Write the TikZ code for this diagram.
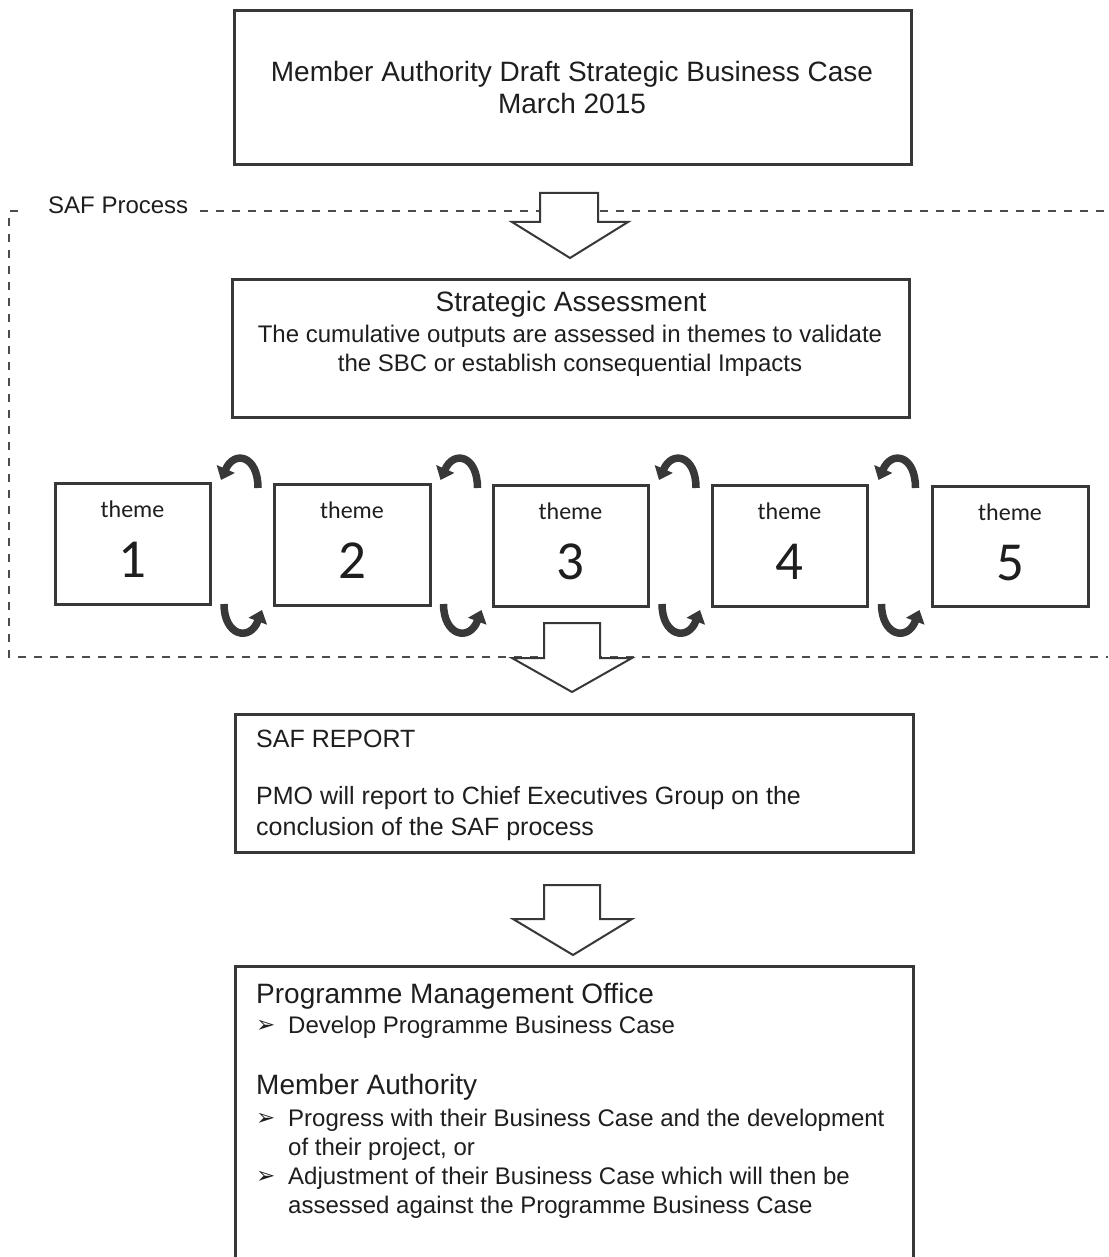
\documentclass[tikz,border=0pt]{standalone}
\usepackage{fontspec}
\setmainfont{Liberation Sans}
\newfontfamily\themefont{Carlito}
\newfontfamily\symfont{DejaVu Sans}
\usetikzlibrary{arrows.meta}
\definecolor{ink}{HTML}{1E1E1E}
\definecolor{rule}{HTML}{383838}
\newcommand\setsz[1]{\fontsize{#1}{#1}\selectfont}
\begin{document}
\begin{tikzpicture}[x=1pt,y=-1pt,
  box/.style={draw=rule,line width=3pt,inner sep=0pt},
  blockarrow/.style={draw=rule,line width=2pt,fill=white,line join=miter},
  framedash/.style={draw=rule!90,line width=2pt,dash pattern=on 8pt off 8pt},
  turn/.style={draw=rule,line width=7.5pt,-{Triangle[width=19pt,length=12pt]}},
  txt/.style={text=ink,inner sep=0pt,anchor=base},
  ltxt/.style={text=ink,inner sep=0pt,anchor=base west},
  bullet/.style={text=ink,inner sep=0pt,anchor=base west,font=\symfont\setsz{23}},
]
\useasboundingbox (0,0) rectangle (1108,1257);
\clip (0,0) rectangle (1108,1257);

% dashed frame of the SAF process
\node[ltxt,font=\setsz{24}] (saflbl) at (48,214) {SAF Process};
\draw[framedash] (200,211) -- (1108,211);
\draw[framedash] (18,211) -- (9,211) -- (9,657) -- (1108,657);

% top box
\node[box,minimum width=677pt,minimum height=154pt] (draft) at (572.5,87.5) {};
\node[txt,font=\setsz{28}] (draftA) at (572,82) {Member Authority Draft Strategic Business Case};
\node[txt,font=\setsz{28}] (draftB) at (572,114) {March 2015};

% strategic assessment box
\node[box,minimum width=677pt,minimum height=138pt] (sa) at (570.5,348) {};
\node[txt,font=\setsz{28}] (saA) at (571,311) {Strategic Assessment};
\node[txt,font=\setsz{24}] (saB) at (570,342) {The cumulative outputs are assessed in themes to validate};
\node[txt,font=\setsz{24}] (saC) at (570,371) {the SBC or establish consequential Impacts};

% theme boxes
\foreach \i/\l/\r/\t/\b in {1/55/210/483/604, 2/274/430/484/605, 3/493/648/485/606, 4/712/867/485/606, 5/932/1088/486/606}{
  \node[box,minimum width={\r-\l},minimum height={\b-\t}] (theme\i) at ({(\l+\r)/2},{(\t+\b)/2}) {};
  \node[txt,font=\themefont\setsz{24}] (themelbl\i) at ({(\l+\r)/2},{\t+34}) {theme};
  \node[txt,font=\themefont\setsz{55}] (themenum\i) at ({(\l+\r)/2},{\t+94}) {\i};
}

% turning arrows between neighbouring themes
\foreach \cx in {242,461.5,680,899.5}{
  \draw[turn] (\cx+16,488) .. controls (\cx+16,455) and (\cx-8,450) .. (\cx-21,480);
  \draw[turn] (\cx-18,604) .. controls (\cx-18,636) and (\cx+8,642) .. (\cx+20,610);
}

% block arrows
\draw[blockarrow] (540,193) -- (598,193) -- (598,222) -- (628,222) -- (570,258) coordinate (tipA) -- (512,222) -- (540,222) -- cycle;
\draw[blockarrow] (544,623) -- (600,623) -- (600,658) -- (632,658) -- (572,692) coordinate (tipB) -- (512,658) -- (544,658) -- cycle;
\draw[blockarrow] (544,885) -- (600,885) -- (600,919) -- (632,919) -- (573,955) coordinate (tipC) -- (513,919) -- (544,919) -- cycle;

% SAF report box
\node[box,minimum width=678pt,minimum height=138pt] (report) at (574,783) {};
\node[ltxt,font=\setsz{25}] (repA) at (256,747) {SAF REPORT};
\node[ltxt,font=\setsz{25}] (repB) at (256,804) {PMO will report to Chief Executives Group on the};
\node[ltxt,font=\setsz{25}] (repC) at (256,835) {conclusion of the SAF process};

% programme management office box (open at the foot)
\draw[rule,line width=3pt] (235,1270) -- (235,966) -- (913,966) -- (913,1270);
\coordinate (pmo) at (574,966);
\node[ltxt,font=\setsz{28}] (pmoA) at (256,1003) {Programme Management Office};
\node[bullet] (bu1) at (256,1032) {➢};
\node[ltxt,font=\setsz{24}] (pmoB) at (288,1033) {Develop Programme Business Case};
\node[ltxt,font=\setsz{28}] (pmoC) at (256,1094) {Member Authority};
\node[bullet] (bu2) at (256,1125) {➢};
\node[ltxt,font=\setsz{24}] (pmoD) at (288,1126) {Progress with their Business Case and the development};
\node[ltxt,font=\setsz{24}] (pmoE) at (288,1155) {of their project, or};
\node[bullet] (bu3) at (256,1183) {➢};
\node[ltxt,font=\setsz{24}] (pmoF) at (288,1184) {Adjustment of their Business Case which will then be};
\node[ltxt,font=\setsz{24}] (pmoG) at (288,1213) {assessed against the Programme Business Case};
\end{tikzpicture}
\end{document}
